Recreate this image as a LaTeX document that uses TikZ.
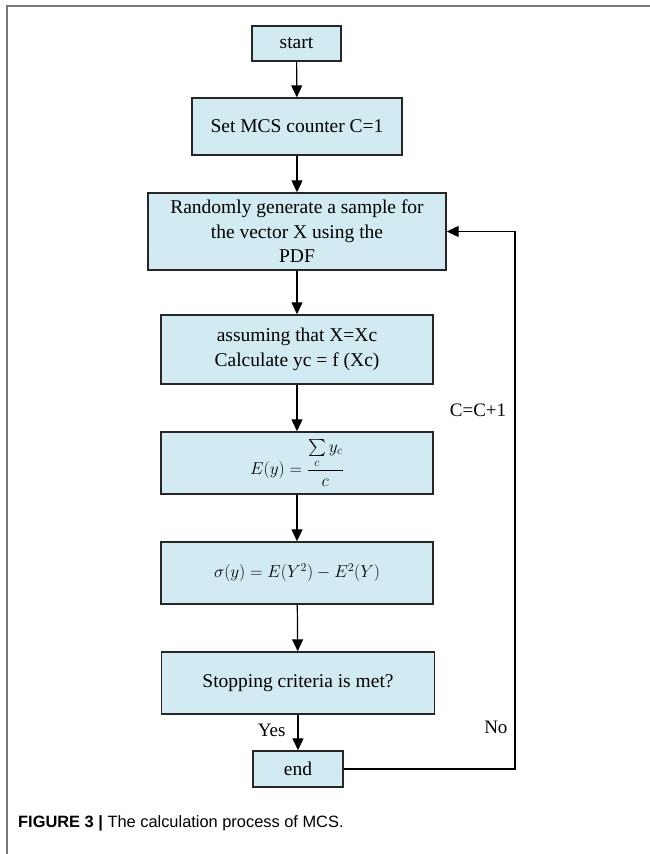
\documentclass[tikz,border=0pt]{standalone}
\usepackage{amsmath, amssymb}
\usepackage{fontspec}
\setmainfont{Liberation Serif}
\newfontfamily\capfont{Liberation Sans}
\usetikzlibrary{arrows.meta}
\definecolor{boxblau}{RGB}{210,235,243}
\definecolor{rahmen}{RGB}{120,120,120}

\begin{document}
\begin{tikzpicture}[x=1pt, y=-1pt,
    kasten/.style={draw=black!85, line width=1.4pt, fill=boxblau, align=center,
        inner sep=0pt, font=\fontsize{19.5}{24.5}\selectfont},
    formel/.style={kasten, font=\fontsize{17}{20}\selectfont},
    pfeil/.style={line width=1.2pt, -{Triangle[length=12pt,width=11pt]}},
    beschr/.style={font=\fontsize{19}{22}\selectfont}]
    \useasboundingbox (0,0) rectangle (650,854);

    % Rahmen
    \draw[rahmen, line width=2pt] (650,6) -- (7,6) -- (7,854);

    % Kästen
    \node[kasten, minimum width=89pt, minimum height=35pt] (start) at (296.5,43.5) {start};
    \node[kasten, minimum width=210pt, minimum height=57pt] (setc) at (297,126.5) {Set MCS counter C=1};
    \node[kasten, minimum width=298pt, minimum height=77pt] (gen) at (297,231.5)
        {Randomly generate a sample for\\ the vector X using the\\ PDF};
    \node[kasten, minimum width=272pt, minimum height=69pt] (assume) at (297,349.5)
        {assuming that X=Xc\\ Calculate yc = f (Xc)};
    \node[formel, minimum width=272pt, minimum height=62pt] (mean) at (297,463)
        {$E(y)=\dfrac{\sum\limits_{c} y_c}{c}$};
    \node[formel, minimum width=272pt, minimum height=62pt] (sigma) at (297,573)
        {$\sigma(y)=E(Y^2)-E^2(Y)$};
    \node[kasten, minimum width=273pt, minimum height=62pt] (stop) at (298,683)
        {Stopping criteria is met?};
    \node[kasten, minimum width=90pt, minimum height=36pt] (end) at (298,769) {end};

    % Pfeile
    \foreach \von/\nach in {start/setc, setc/gen, gen/assume, assume/mean, mean/sigma, sigma/stop, stop/end}
    {
        \draw[pfeil] (\von) -- (\nach);
    }
    \coordinate (ecke1) at (515,769);
    \coordinate (ecke2) at (515,231.5);
    \draw[pfeil] (end.east) -- (ecke1) -- (ecke2) -- (gen.east);

    % Beschriftungen
    \node[beschr, anchor=east] (ja) at (289,730) {Yes};
    \node[beschr, anchor=east] (nein) at (511,727) {No};
    \node[beschr] (zaehler) at (478,410) {C=C+1};

    % Bildunterschrift
    \node[anchor=west, inner sep=0pt, font=\capfont\fontsize{16.4}{18}\selectfont] (titel) at (18,823)
        {\textbf{FIGURE 3 |} The calculation process of MCS.};
\end{tikzpicture}
\end{document}
